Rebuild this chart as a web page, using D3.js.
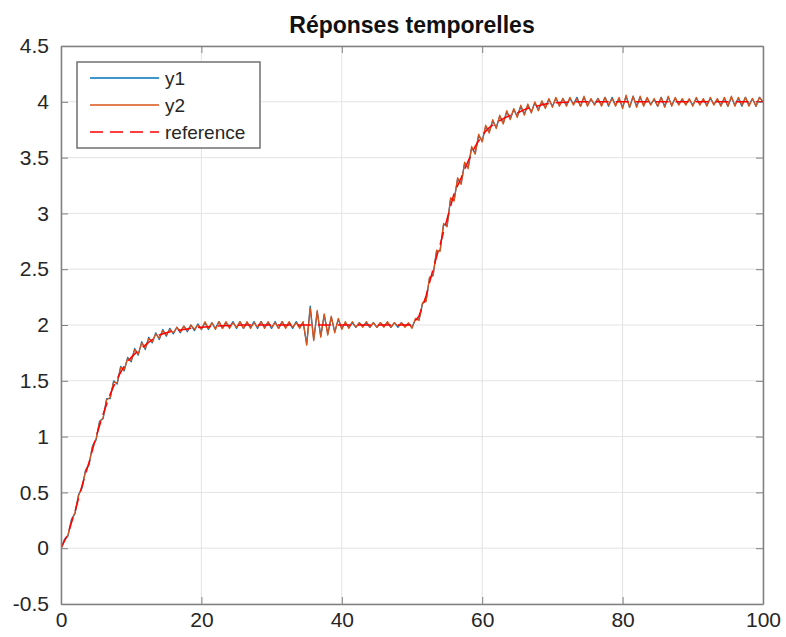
<!DOCTYPE html>
<html>
<head>
<meta charset="utf-8">
<script src="https://cdn.jsdelivr.net/npm/d3@7"></script>
<style>
  body { margin: 0; background: #fff; }
  svg { font-family: "Liberation Sans", Arial, sans-serif; }
</style>
</head>
<body>
<svg id="chart" width="786" height="637"></svg>
<script>
// time grid for the two measured outputs (step 0.5) and for the reference (step 1)
const tY = d3.range(0, 100.001, 0.5);
const tRef = d3.range(0, 100.001, 1);

const y1 = [
  0, 0.08, 0.11, 0.26, 0.31, 0.48, 0.54, 0.70, 0.75, 0.92,
  0.97, 1.14, 1.16, 1.34, 1.34, 1.50, 1.47, 1.63, 1.59, 1.71,
  1.67, 1.79, 1.73, 1.85, 1.78, 1.89, 1.84, 1.93, 1.87, 1.96,
  1.90, 1.97, 1.92, 1.98, 1.93, 1.99, 1.94, 2.00, 1.95, 2.01,
  1.96, 2.02, 1.96, 2.02, 1.97, 2.03, 1.97, 2.02, 1.98, 2.03,
  1.97, 2.03, 1.97, 2.02, 1.98, 2.03, 1.97, 2.03, 1.98, 2.02,
  1.97, 2.03, 1.97, 2.03, 1.98, 2.02, 1.97, 2.03, 1.98, 2.02,
  1.83, 2.17, 1.87, 2.12, 1.90, 2.09, 1.92, 2.07, 1.94, 2.05,
  1.97, 2.02, 1.98, 2.02, 1.98, 2.02, 1.99, 2.02, 1.98, 2.02,
  1.98, 2.02, 1.99, 2.02, 1.98, 2.02, 1.98, 2.02, 1.99, 2.01,
  1.98, 2.05, 2.05, 2.19, 2.22, 2.42, 2.45, 2.66, 2.67, 2.90,
  2.89, 3.13, 3.12, 3.31, 3.27, 3.45, 3.41, 3.59, 3.54, 3.70,
  3.65, 3.78, 3.73, 3.83, 3.77, 3.87, 3.81, 3.91, 3.85, 3.93,
  3.87, 3.96, 3.89, 3.97, 3.91, 3.99, 3.93, 4.00, 3.95, 4.02,
  3.96, 4.03, 3.97, 4.03, 3.97, 4.03, 3.98, 4.04, 3.96, 4.04,
  3.97, 4.02, 3.98, 4.03, 3.97, 4.04, 3.96, 4.04, 3.97, 4.03,
  3.95, 4.05, 3.95, 4.05, 3.96, 4.04, 3.97, 4.03, 3.98, 4.02,
  3.96, 4.04, 3.96, 4.04, 3.97, 4.03, 3.98, 4.02, 3.98, 4.02,
  3.97, 4.03, 3.98, 4.02, 3.97, 4.03, 3.98, 4.02, 3.97, 4.03,
  3.96, 4.04, 3.97, 4.03, 3.96, 4.04, 3.97, 4.03, 3.96, 4.04, 4.00
];

const y2 = [
  0, 0.07, 0.12, 0.25, 0.32, 0.47, 0.55, 0.69, 0.76, 0.91,
  0.98, 1.13, 1.17, 1.33, 1.35, 1.49, 1.48, 1.62, 1.60, 1.70,
  1.68, 1.78, 1.74, 1.84, 1.79, 1.88, 1.85, 1.92, 1.88, 1.95,
  1.91, 1.96, 1.93, 1.98, 1.94, 1.99, 1.95, 2.00, 1.96, 2.00,
  1.96, 2.03, 1.97, 2.02, 1.96, 2.03, 1.97, 2.03, 1.97, 2.02,
  1.98, 2.03, 1.97, 2.03, 1.97, 2.02, 1.98, 2.03, 1.97, 2.03,
  1.98, 2.02, 1.97, 2.03, 1.97, 2.03, 1.98, 2.02, 1.97, 2.03,
  1.82, 2.15, 1.86, 2.13, 1.89, 2.10, 1.91, 2.08, 1.93, 2.06,
  1.96, 2.03, 1.97, 2.03, 1.98, 2.02, 1.98, 2.03, 1.98, 2.02,
  1.98, 2.02, 1.98, 2.03, 1.98, 2.02, 1.99, 2.02, 1.98, 2.02,
  1.97, 2.06, 2.04, 2.20, 2.21, 2.43, 2.44, 2.67, 2.66, 2.91,
  2.88, 3.14, 3.11, 3.32, 3.26, 3.46, 3.40, 3.60, 3.53, 3.71,
  3.64, 3.79, 3.72, 3.84, 3.76, 3.88, 3.80, 3.92, 3.84, 3.94,
  3.86, 3.97, 3.88, 3.98, 3.90, 4.00, 3.92, 4.01, 3.94, 4.03,
  3.95, 4.04, 3.96, 4.03, 3.96, 4.04, 3.97, 4.03, 3.96, 4.05,
  3.96, 4.03, 3.97, 4.03, 3.96, 4.04, 3.97, 4.03, 3.96, 4.04,
  3.94, 4.06, 3.95, 4.05, 3.95, 4.05, 3.96, 4.04, 3.97, 4.03,
  3.96, 4.04, 3.95, 4.05, 3.96, 4.04, 3.97, 4.03, 3.97, 4.03,
  3.96, 4.04, 3.97, 4.03, 3.96, 4.04, 3.97, 4.03, 3.96, 4.04,
  3.96, 4.05, 3.96, 4.04, 3.97, 4.04, 3.96, 4.03, 3.96, 4.04, 4.00
];

const reference = [
  0, 0.13, 0.33, 0.56, 0.77, 1.00, 1.20, 1.38, 1.52, 1.63,
  1.71, 1.77, 1.82, 1.87, 1.91, 1.93, 1.945, 1.955, 1.965, 1.975,
  1.98, 1.985, 1.99, 1.993, 1.995, 1.997, 2, 2, 2, 2,
  2, 2, 2, 2, 2, 2, 2, 2, 2, 2,
  2, 2, 2, 2, 2, 2, 2, 2, 2, 2,
  2, 2.08, 2.26, 2.50, 2.72, 2.95, 3.18, 3.32, 3.47, 3.60,
  3.70, 3.77, 3.81, 3.85, 3.88, 3.90, 3.93, 3.95, 3.965, 3.98,
  3.99, 3.993, 3.996, 4, 4, 4, 4, 4, 4, 4,
  4, 4, 4, 4, 4, 4, 4, 4, 4, 4,
  4, 4, 4, 4, 4, 4, 4, 4, 4, 4,
  4
];

const xTicks = [0, 20, 40, 60, 80, 100];
const yTicks = [-0.5, 0, 0.5, 1, 1.5, 2, 2.5, 3, 3.5, 4, 4.5];
const titleText = 'Réponses temporelles';
const seriesNames = ['y1', 'y2', 'reference'];
const seriesColors = ['#0072BD', '#D95319', '#FF0000'];

const margin = { top: 46, right: 23, bottom: 33, left: 61 };
const totalWidth = 786;
const totalHeight = 637;
const width = totalWidth - margin.left - margin.right;
const height = totalHeight - margin.top - margin.bottom;
const TICK_LEN = 7;
const AXIS_COLOR = '#808080';
const TEXT_COLOR = '#262626';
const TICK_FONT = 21;
const DASH = '13,7';

const svg = d3.select('#chart');
svg.append('rect').attr('width', totalWidth).attr('height', totalHeight).attr('fill', '#fff');

const xScale = d3.scaleLinear([0, 100], [0, width]);
const yScale = d3.scaleLinear([-0.5, 4.5], [height, 0]);

const plot = svg.append('g').attr('transform', `translate(${margin.left}, ${margin.top})`);

/* grid lines */
plot.append('g')
  .selectAll('line')
  .data(xTicks)
  .enter()
  .append('line')
  .attr('x1', (d) => xScale(d))
  .attr('x2', (d) => xScale(d))
  .attr('y1', 0)
  .attr('y2', height)
  .attr('stroke', '#e3e3e3')
  .attr('stroke-width', 1);

plot.append('g')
  .selectAll('line')
  .data(yTicks)
  .enter()
  .append('line')
  .attr('y1', (d) => yScale(d))
  .attr('y2', (d) => yScale(d))
  .attr('x1', 0)
  .attr('x2', width)
  .attr('stroke', '#e3e3e3')
  .attr('stroke-width', 1);

/* data lines */
const clip = svg.append('clipPath').attr('id', 'plot-clip');
clip.append('rect').attr('width', width).attr('height', height);

const dataG = plot.append('g').attr('clip-path', 'url(#plot-clip)');
const lineGen = d3.line().x((d) => xScale(d[0])).y((d) => yScale(d[1]));

dataG.append('path')
  .attr('d', lineGen(d3.zip(tY, y1)))
  .attr('fill', 'none')
  .attr('stroke', seriesColors[0])
  .attr('stroke-width', 1.3)
  .attr('stroke-linejoin', 'round');

dataG.append('path')
  .attr('d', lineGen(d3.zip(tY, y2)))
  .attr('fill', 'none')
  .attr('stroke', seriesColors[1])
  .attr('stroke-width', 1.3)
  .attr('stroke-linejoin', 'round');

dataG.append('path')
  .attr('d', lineGen(d3.zip(tRef, reference)))
  .attr('fill', 'none')
  .attr('stroke', seriesColors[2])
  .attr('stroke-width', 1.5)
  .attr('stroke-dasharray', DASH);

/* axes: ticks inward on all four sides, like a boxed matlab axes */
function styleAxis(g) {
  g.select('.domain').attr('stroke', AXIS_COLOR).attr('stroke-width', 1.5);
  g.selectAll('.tick line').attr('stroke', AXIS_COLOR).attr('stroke-width', 1);
  g.selectAll('.tick text')
    .attr('fill', TEXT_COLOR)
    .attr('font-size', TICK_FONT);
}

plot.append('g')
  .attr('transform', `translate(0, ${height})`)
  .call(d3.axisBottom(xScale).tickValues(xTicks).tickSize(-TICK_LEN).tickSizeOuter(0).tickPadding(8))
  .call(styleAxis);

plot.append('g')
  .call(d3.axisTop(xScale).tickValues(xTicks).tickSize(-TICK_LEN).tickSizeOuter(0).tickFormat(''))
  .call(styleAxis);

// plain hyphen for negatives, as matlab prints them
plot.append('g')
  .call(d3.axisLeft(yScale).tickValues(yTicks).tickSize(-TICK_LEN).tickSizeOuter(0).tickPadding(12).tickFormat((d) => String(d)))
  .call(styleAxis);

plot.append('g')
  .attr('transform', `translate(${width}, 0)`)
  .call(d3.axisRight(yScale).tickValues(yTicks).tickSize(-TICK_LEN).tickSizeOuter(0).tickFormat(''))
  .call(styleAxis);

/* title */
svg.append('text')
  .attr('x', margin.left + width / 2)
  .attr('y', 33)
  .attr('text-anchor', 'middle')
  .attr('font-size', 23)
  .attr('font-weight', 'bold')
  .attr('fill', '#111')
  .text(titleText);

/* legend */
const legend = svg.append('g').attr('transform', 'translate(77, 62)');
legend.append('rect')
  .attr('width', 183)
  .attr('height', 86)
  .attr('fill', '#fff')
  .attr('stroke', '#707070')
  .attr('stroke-width', 1.5);

seriesNames.forEach((name, i) => {
  const ly = 16 + i * 27;
  legend.append('line')
    .attr('x1', 13)
    .attr('x2', 82)
    .attr('y1', ly)
    .attr('y2', ly)
    .attr('stroke', seriesColors[i])
    .attr('stroke-width', i === 2 ? 1.5 : 1.3)
    .attr('stroke-dasharray', i === 2 ? DASH : null);
  legend.append('text')
    .attr('x', 88)
    .attr('y', ly + 7)
    .attr('font-size', 19)
    .attr('fill', TEXT_COLOR)
    .text(name);
});
</script>
</body>
</html>
